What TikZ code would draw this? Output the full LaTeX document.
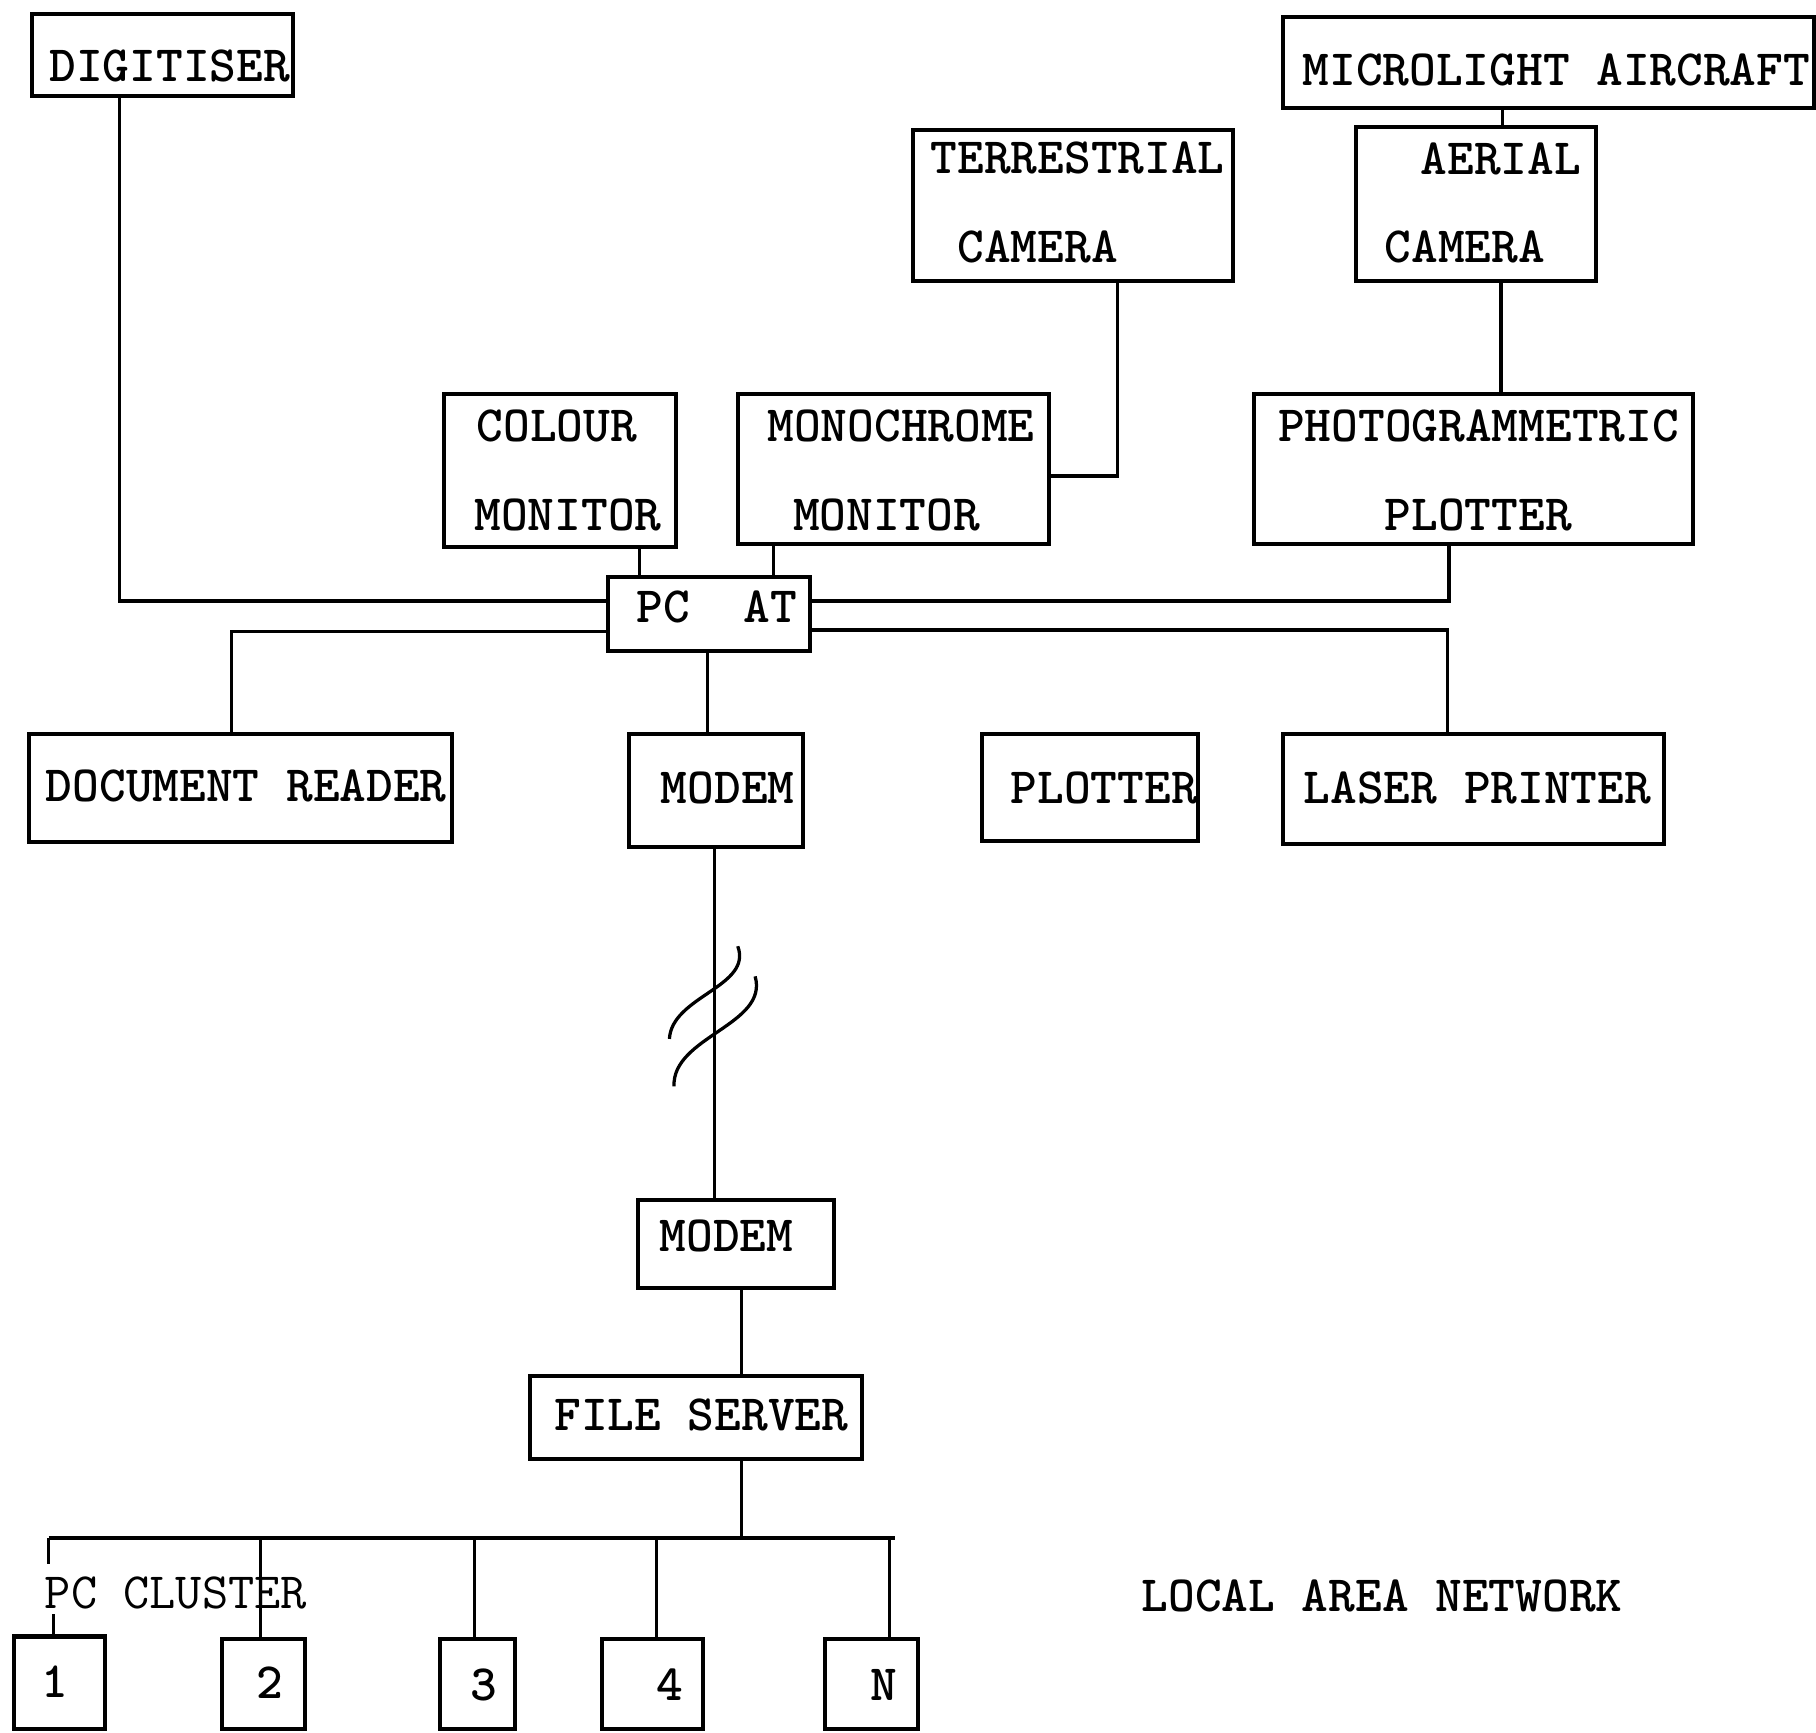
\documentclass[tikz,border=0pt]{standalone}
\usepackage{fontspec}
\usetikzlibrary{calc}
\begin{document}
\begin{tikzpicture}[x=0.1mm,y=-0.1mm,
  box/.style={draw, line width=1pt, inner sep=0pt, outer sep=0pt},
  lbl/.style={anchor=west, inner sep=0pt, font=\fontsize{12.5}{14}\selectfont\ttfamily\bfseries},
  lblc/.style={lbl, anchor=center},
  lightlbl/.style={anchor=west, inner sep=0pt, font=\fontsize{12.5}{14}\selectfont\ttfamily},
  wire/.style={line width=0.8pt}]
\useasboundingbox[fill=white] (0,0) rectangle (1568,1496);

% boxes
\node[box, minimum width=22.5mm, minimum height=7.1mm] (dig) at (140.5,47.5) {};
\node[box, minimum width=45.8mm, minimum height=7.8mm] (micro) at (1337,54) {};
\node[box, minimum width=27.7mm, minimum height=13.1mm] (terr) at (926.5,177.5) {};
\node[box, minimum width=20.7mm, minimum height=13.3mm] (aer) at (1274.5,176.5) {};
\node[box, minimum width=20.1mm, minimum height=13.2mm] (col) at (483.5,406) {};
\node[box, minimum width=26.9mm, minimum height=13.0mm] (mono) at (771.5,405) {};
\node[box, minimum width=37.9mm, minimum height=13.0mm] (photo) at (1272.5,405) {};
\node[box, minimum width=17.4mm, minimum height=6.4mm] (pc) at (612,530) {};
\node[box, minimum width=36.5mm, minimum height=9.3mm] (doc) at (207.5,680.5) {};
\node[box, minimum width=15.0mm, minimum height=9.7mm] (modem1) at (618,682.5) {};
\node[box, minimum width=18.6mm, minimum height=9.2mm] (plot) at (941,680) {};
\node[box, minimum width=32.9mm, minimum height=9.5mm] (laser) at (1272.5,681.5) {};
\node[box, minimum width=16.9mm, minimum height=7.6mm] (modem2) at (635.5,1074) {};
\node[box, minimum width=28.6mm, minimum height=7.2mm] (fs) at (601,1224) {};
\node[box, minimum width=7.9mm, minimum height=8.0mm] (b1) at (51.5,1453) {};
\node[box, minimum width=7.1mm, minimum height=7.8mm] (b2) at (227.5,1454) {};
\node[box, minimum width=6.5mm, minimum height=7.8mm] (b3) at (412.5,1454) {};
\node[box, minimum width=8.7mm, minimum height=7.8mm] (b4) at (563.5,1454) {};
\node[box, minimum width=8.1mm, minimum height=7.8mm] (bN) at (752.5,1454) {};

% labels
\node[lbl] (digT) at (42,57) {DIGITISER};
\node[lbl] (microT) at (1124,60) {MICROLIGHT AIRCRAFT};
\node[lbl] (terrT1) at (803,136) {TERRESTRIAL};
\node[lbl] (terrT2) at (826,213) {CAMERA};
\node[lbl] (aerT1) at (1226,137) {AERIAL};
\node[lbl] (aerT2) at (1195,213) {CAMERA};
\node[lbl] (colT1) at (411,368) {COLOUR};
\node[lbl] (colT2) at (409,445) {MONITOR};
\node[lbl] (monoT1) at (662,368) {MONOCHROME};
\node[lbl] (monoT2) at (684,445) {MONITOR};
\node[lbl] (photoT1) at (1103,368) {PHOTOGRAMMETRIC};
\node[lbl] (photoT2) at (1195,445) {PLOTTER};
\node[lbl] (pcT) at (549,524) {PC\ \ AT};
\node[lbl] (docT) at (39,679) {DOCUMENT READER};
\node[lbl] (modem1T) at (570,680) {MODEM};
\node[lbl] (plotT) at (872,680) {PLOTTER};
\node[lbl] (laserT) at (1125,680) {LASER PRINTER};
\node[lbl] (modem2T) at (569,1067) {MODEM};
\node[lbl] (fsT) at (478,1222) {FILE SERVER};
\node[lightlbl] (clT) at (38,1375) {PC CLUSTER};
\node[lblc] (b1T) at (47,1452) {1};
\node[lblc] (b2T) at (233,1453) {2};
\node[lblc] (b3T) at (418,1455) {3};
\node[lblc] (b4T) at (578,1455) {4};
\node[lblc] (bNT) at (763,1455) {N};
\node[lbl] (lanT) at (985,1378) {LOCAL AREA NETWORK};

% connectors
\coordinate (jDig) at (103,519);
\draw[wire] (dig.south -| jDig) -- (jDig) -- (pc.west |- jDig);
\coordinate (jPh) at (1251,519);
\draw[wire] (photo.south -| jPh) -- (jPh) -- (pc.east |- jPh);
\coordinate (jDoc) at (200,545);
\draw[wire] (pc.west |- jDoc) -- (jDoc) -- (doc.north -| jDoc);
\coordinate (jLas) at (1250,544);
\draw[wire] (pc.east |- jLas) -- (jLas) -- (laser.north -| jLas);
\coordinate (jTer) at (965,411);
\draw[wire] (terr.south -| jTer) -- (jTer) -- (mono.east |- jTer);
\coordinate (xMA) at (1297,100);
\draw[wire] (micro.south -| xMA) -- (aer.north -| xMA);
\coordinate (xAP) at (1296,300);
\draw[wire] (aer.south -| xAP) -- (photo.north -| xAP);
\coordinate (xCP) at (552,480);
\draw[wire] (col.south -| xCP) -- (pc.north -| xCP);
\coordinate (xMP) at (668,480);
\draw[wire] (mono.south -| xMP) -- (pc.north -| xMP);
\coordinate (xPM) at (611,600);
\draw[wire] (pc.south -| xPM) -- (modem1.north -| xPM);
\coordinate (xMM) at (617,900);
\draw[wire] (modem1.south -| xMM) -- (modem2.north -| xMM);
% line break marks
\draw[wire] (637,817) .. controls (650,852) and (580,860) .. (578,897);
\draw[wire] (652,843) .. controls (664,885) and (580,895) .. (582,938);
\coordinate (xFS) at (640,1150);
\draw[wire] (modem2.south -| xFS) -- (fs.north -| xFS);
\coordinate (busL) at (42,1328);
\coordinate (busR) at (773,1328);
\draw[wire] (busL) -- (busR);
\draw[wire] (fs.south -| xFS) -- (xFS |- busL);
\draw[wire] (busL) -- ++(0,22);
\coordinate (t1) at (46,1394);
\draw[wire] (t1) -- (b1.north -| t1);
\coordinate (d2) at (225,1328);
\draw[wire] (d2) -- (b2.north -| d2);
\coordinate (d3) at (410,1328);
\draw[wire] (d3) -- (b3.north -| d3);
\coordinate (d4) at (567,1328);
\draw[wire] (d4) -- (b4.north -| d4);
\coordinate (dN) at (768,1328);
\draw[wire] (dN) -- (bN.north -| dN);
\end{tikzpicture}
\end{document}
